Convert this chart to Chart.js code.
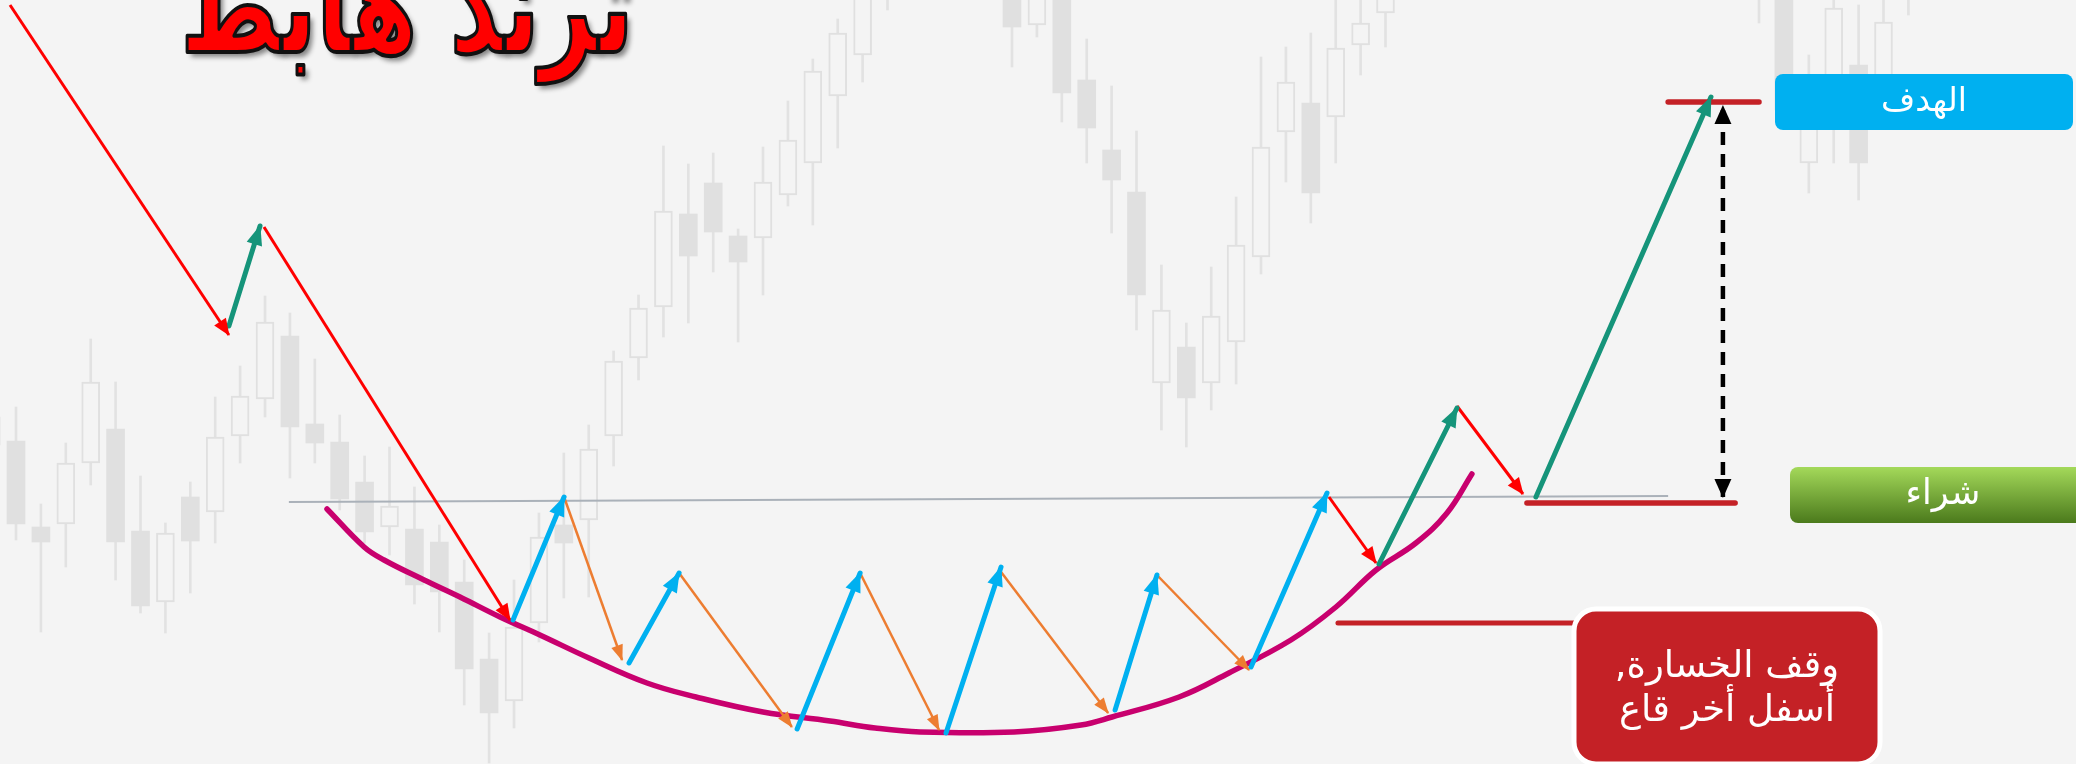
<!DOCTYPE html>
<html>
<head>
<meta charset="utf-8">
<script src="https://cdn.jsdelivr.net/npm/chart.js@4.4.1/dist/chart.umd.min.js"></script>
<style>
html, body { margin: 0; padding: 0; background: #f4f4f4; overflow: hidden; }
canvas { display: block; }
</style>
</head>
<body>
<canvas id="chart" width="2076" height="764"></canvas>
<script>
// candle index (time) and prices
const candleIdx   = [-1, 0, 1, 2, 3, 4, 5, 6, 7, 8, 9, 10, 11, 12, 13, 14, 15, 16, 17, 18, 19, 20, 21, 22, 23, 24, 25, 26, 27, 28, 29, 30, 31, 32, 33, 34, 35,
                     40, 41, 42, 43, 44, 45, 46, 47, 48, 49, 50, 51, 52, 53, 54, 55,
                     70, 71, 72, 73, 74, 75, 76];
const candleOpen  = [347, 323, 237, 240, 301, 335, 233, 162, 267, 252, 328, 365, 428, 340, 322, 282, 237, 235, 222, 182, 105, 63, 141, 239, 244, 328, 406, 457, 550, 581, 528, 526, 569, 601, 668, 709, 804,
                     784, 739, 769, 684, 614, 572, 381, 417, 381, 422, 507, 632, 661, 647, 719, 751,
                     784, 774, 601, 649, 699, 669, 769];
const candleHigh  = [352, 357, 260, 321, 425, 382, 288, 241, 282, 367, 398, 468, 451, 405, 349, 308, 317, 277, 239, 204, 131, 184, 251, 311, 339, 413, 469, 618, 600, 611, 535, 617, 663, 705, 745, 784, 824,
                     804, 794, 784, 725, 678, 633, 499, 441, 497, 567, 707, 717, 731, 774, 784, 804,
                     804, 794, 709, 774, 759, 784, 804];
const candleLow   = [314, 224, 132, 197, 279, 184, 151, 131, 171, 221, 301, 347, 286, 301, 254, 221, 209, 160, 132, 59, 1, 36, 122, 166, 167, 298, 384, 427, 441, 492, 422, 469, 558, 539, 616, 682, 754,
                     697, 727, 642, 601, 531, 434, 334, 317, 354, 380, 490, 582, 541, 601, 689, 717,
                     741, 639, 571, 601, 564, 654, 749];
const candleClose = [319, 240, 222, 301, 382, 222, 158, 231, 223, 327, 368, 442, 337, 321, 265, 232, 258, 179, 172, 95, 51, 137, 227, 221, 315, 403, 456, 553, 508, 532, 502, 582, 624, 693, 731, 769, 774,
                     737, 774, 671, 636, 584, 469, 454, 366, 448, 519, 617, 682, 571, 716, 741, 774,
                     769, 654, 664, 756, 601, 742, 784];

// drawn overlay: [index, price] pairs
const resistanceLine = [[10.96, 262], [66.35, 268]];
const bowlCurve = [[12.49, 255], [13.98, 217], [14.78, 204], [16.39, 184], [17.83, 167], [19.44, 147], [21.04, 129], [23.01, 106],
                   [25.34, 81], [27.31, 67], [30.0, 52], [32.69, 43], [34.5, 36], [36.31, 32], [40.08, 32], [42.77, 39], [44.02, 47],
                   [46.71, 67], [48.71, 91], [51.2, 124], [53.01, 157], [54.62, 194], [56.22, 221], [57.47, 251], [58.47, 290]];
const redArrows = [
  [[-0.24, 759], [8.55, 429]],
  [[9.96, 537], [19.84, 144]],
  [[52.73, 267], [54.62, 201]],
  [[57.87, 358], [60.52, 270]]
];
const greenArrows = [
  [[8.55, 438], [9.8, 538]],
  [[54.74, 200], [57.87, 356]],
  [[61.04, 267], [68.07, 667]]
];
const blueArrows = [
  [[19.96, 144], [22.01, 267]],
  [[24.62, 101], [26.63, 191]],
  [[31.37, 35], [33.9, 191]],
  [[37.35, 31], [39.56, 197]],
  [[44.14, 54], [45.82, 189]],
  [[49.6, 97], [52.65, 271]]
];
const orangeArrows = [
  [[22.01, 267], [24.34, 104]],
  [[26.63, 191], [31.16, 37]],
  [[33.9, 191], [37.07, 34]],
  [[39.56, 192], [43.86, 51]],
  [[45.82, 189], [49.52, 94]]
];
const buyLevel = [[60.68, 261], [69.04, 261]];
const targetLevel = [[66.35, 662], [70.0, 662]];
const stopLevel = [[53.09, 141], [63.3, 141]];
const projection = [[68.55, 267], [68.55, 658]];

const titleText = 'ترند هابط';
const targetLabel = 'الهدف';
const buyLabel = 'شراء';
const stopLabel = ['وقف الخسارة,', 'أسفل أخر قاع'];

const toPts = arr => arr.map(([x, y]) => ({ x, y }));

const wicks = candleIdx.map((x, k) => ({ x, y: [candleLow[k], candleHigh[k]] }));
const bearBodies = [], bullBodies = [];
candleIdx.forEach((x, k) => {
    const o = candleOpen[k], c = candleClose[k];
    if (c < o) bearBodies.push({ x, y: [c, o] });
    else bullBodies.push({ x, y: [o, c] });
});

const lineSet = (data, color, width, extra) => Object.assign({
    type: 'line', data: toPts(data), borderColor: color, backgroundColor: color,
    borderWidth: width, pointRadius: 0, fill: false, tension: 0, borderCapStyle: 'butt'
}, extra || {});

const datasets = [
    { type: 'bar', data: wicks, backgroundColor: '#e2e2e2', barThickness: 2, grouped: false },
    { type: 'bar', data: bearBodies, backgroundColor: '#e0e0e0', barThickness: 18, grouped: false },
    { type: 'bar', data: bullBodies, backgroundColor: '#f4f4f4', borderColor: '#e0e0e0', borderWidth: 2, borderSkipped: false, barThickness: 18, grouped: false },
    lineSet(resistanceLine, '#aab1b9', 2),
    lineSet(bowlCurve, '#c8006e', 5.5, { tension: 0.4, borderCapStyle: 'round', borderJoinStyle: 'round' }),
    ...redArrows.map(a => lineSet(a, '#ff0000', 3, { head: [16, 14] })),
    ...orangeArrows.map(a => lineSet(a, '#ed7d31', 2.5, { head: [15, 12] })),
    ...blueArrows.map(a => lineSet(a, '#00b0f0', 5, { head: [19, 16], borderCapStyle: 'round' })),
    ...greenArrows.map(a => lineSet(a, '#15947a', 5, { head: [19, 16], borderCapStyle: 'round' })),
    lineSet(stopLevel, '#c42126', 5, { borderCapStyle: 'round' }),
    lineSet(buyLevel, '#c42126', 5.5, { borderCapStyle: 'round' }),
    lineSet(targetLevel, '#c42126', 5.5, { borderCapStyle: 'round' }),
    lineSet(projection, '#000000', 4.5, { borderDash: [13, 9], head: [18, 17], bothEnds: true })
];
// draw in list order: first dataset at the bottom
datasets.forEach((d, i) => { d.order = datasets.length - i; });

const background = {
    id: 'background',
    beforeDraw(chart) {
        const ctx = chart.ctx;
        ctx.save();
        ctx.fillStyle = '#f4f4f4';
        ctx.fillRect(0, 0, chart.width, chart.height);
        ctx.restore();
    }
};

const arrowHeads = {
    id: 'arrowHeads',
    afterDatasetsDraw(chart) {
        const ctx = chart.ctx;
        chart.data.datasets.forEach((ds, i) => {
            if (!ds.head) return;
            const pts = chart.getDatasetMeta(i).data;
            const n = pts.length;
            const draw = (tip, from) => {
                const a = Math.atan2(tip.y - from.y, tip.x - from.x);
                const [len, w] = ds.head;
                ctx.save();
                ctx.fillStyle = ds.borderColor;
                ctx.translate(tip.x, tip.y);
                ctx.rotate(a);
                ctx.beginPath();
                ctx.moveTo(1, 0);
                ctx.lineTo(-len, w / 2);
                ctx.lineTo(-len, -w / 2);
                ctx.closePath();
                ctx.fill();
                ctx.restore();
            };
            draw(pts[n - 1], pts[n - 2]);
            if (ds.bothEnds) draw(pts[0], pts[1]);
        });
    }
};

const labels = {
    id: 'labels',
    afterDraw(chart) {
        const ctx = chart.ctx;
        ctx.save();
        ctx.direction = 'rtl';

        // title
        let size = 100;
        ctx.font = `bold ${size}px "DejaVu Sans"`;
        size = size * 453 / ctx.measureText(titleText).width;
        ctx.font = `bold ${size}px "DejaVu Sans"`;
        ctx.textAlign = 'center';
        ctx.textBaseline = 'alphabetic';
        ctx.save();
        ctx.translate(407, 52);
        ctx.scale(1, 1.38);
        ctx.shadowColor = 'rgba(0,0,0,0.45)';
        ctx.shadowOffsetX = 4;
        ctx.shadowOffsetY = 5;
        ctx.shadowBlur = 5;
        ctx.fillStyle = '#ff0000';
        ctx.fillText(titleText, 0, 0);
        ctx.shadowColor = 'transparent';
        ctx.lineJoin = 'round';
        ctx.lineWidth = 3;
        ctx.strokeStyle = '#111';
        ctx.strokeText(titleText, 0, 0);
        ctx.restore();

        ctx.textBaseline = 'middle';

        // target
        ctx.fillStyle = '#00b0f0';
        ctx.beginPath();
        ctx.roundRect(1775, 74, 298, 56, 8);
        ctx.fill();
        ctx.fillStyle = '#ffffff';
        ctx.font = '33px "DejaVu Sans"';
        ctx.fillText(targetLabel, 1924, 102);

        // buy
        const g = ctx.createLinearGradient(0, 467, 0, 523);
        g.addColorStop(0, '#a4d95a');
        g.addColorStop(1, '#4b7a1c');
        ctx.fillStyle = g;
        ctx.beginPath();
        ctx.roundRect(1790, 467, 320, 56, 8);
        ctx.fill();
        ctx.fillStyle = '#ffffff';
        ctx.font = '35px "DejaVu Sans"';
        ctx.fillText(buyLabel, 1943, 495);

        // stop loss
        ctx.beginPath();
        ctx.roundRect(1574, 609, 306, 155, 22);
        ctx.fillStyle = '#c42126';
        ctx.fill();
        ctx.lineWidth = 5;
        ctx.strokeStyle = '#ffffff';
        ctx.stroke();
        ctx.fillStyle = '#ffffff';
        ctx.font = '37px "DejaVu Sans"';
        ctx.fillText(stopLabel[0], 1727, 667);
        ctx.fillText(stopLabel[1], 1727, 711);

        ctx.restore();
    }
};

new Chart(document.getElementById('chart'), {
    type: 'bar',
    data: { datasets },
    options: {
        responsive: false,
        devicePixelRatio: 1,
        animation: false,
        layout: { padding: 0 },
        plugins: { legend: { display: false }, tooltip: { enabled: false } },
        scales: {
            x: { type: 'linear', offset: false, min: -0.6426, max: 82.73, display: false },
            y: { type: 'linear', min: 0, max: 764, display: false }
        }
    },
    plugins: [background, arrowHeads, labels]
});
</script>
</body>
</html>
